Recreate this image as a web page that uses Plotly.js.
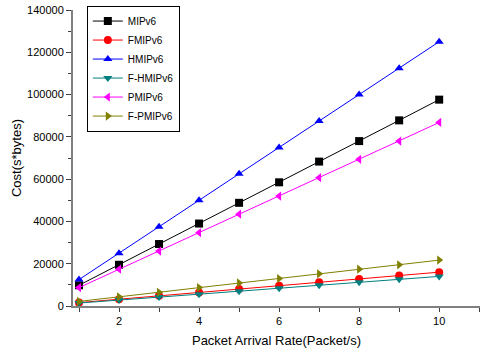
<!DOCTYPE html>
<html>
<head>
<meta charset="utf-8">
<script src="https://cdn.plot.ly/plotly-3.0.1.min.js"></script>
<style>html,body{margin:0;padding:0;background:#fff;}#chart{width:480px;height:351px;}</style>
</head>
<body>
<div id="chart"></div>
<script>
var rate = [1, 2, 3, 4, 5, 6, 7, 8, 9, 10];
var seriesNames = ["MIPv6", "FMIPv6", "HMIPv6", "F-HMIPv6", "PMIPv6", "F-PMIPv6"];
var mipv6 = [9800, 19500, 29300, 39000, 48800, 58500, 68300, 78000, 87800, 97600];
var fmipv6 = [1600, 3200, 4800, 6400, 8000, 9600, 11200, 12800, 14400, 16000];
var hmipv6 = [12500, 25000, 37500, 50000, 62500, 75000, 87500, 100000, 112500, 125000];
var fhmipv6 = [1400, 2800, 4200, 5600, 7000, 8400, 9800, 11200, 12600, 14000];
var pmipv6 = [8700, 17400, 26000, 34700, 43400, 52000, 60700, 69400, 78000, 86800];
var fpmipv6 = [2170, 4340, 6500, 8700, 10900, 13000, 15200, 17400, 19500, 21700];
var xTickVals = [1, 2, 3, 4, 5, 6, 7, 8, 9, 10, 11];
var xTickText = ["", "2", "", "4", "", "6", "", "8", "", "10", ""];

var values = [mipv6, fmipv6, hmipv6, fhmipv6, pmipv6, fpmipv6];
var colors = ["#000000", "#ff0000", "#0000ff", "#008080", "#ff00ff", "#808000"];
var symbols = ["square", "circle", "triangle-up", "triangle-down", "triangle-left", "triangle-right"];

var traces = values.map(function (v, i) {
  return {
    x: rate, y: v, name: seriesNames[i], type: "scatter", mode: "lines+markers",
    line: {color: colors[i], width: 1},
    marker: {color: colors[i], symbol: symbols[i], size: 8}
  };
});

var font = "Arial, 'Liberation Sans', sans-serif";
var layout = {
  width: 480, height: 351,
  margin: {l: 73, r: 0, t: 10, b: 45},
  paper_bgcolor: "#fff", plot_bgcolor: "#fff",
  font: {family: font, size: 11, color: "#000"},
  showlegend: true,
  legend: {
    x: 0.034, y: 1.015, xanchor: "left", yanchor: "top",
    bordercolor: "#000", borderwidth: 1, bgcolor: "rgba(255,255,255,0)",
    itemwidth: 30,
    font: {family: font, size: 10, color: "#000"}
  },
  xaxis: {
    range: [0.85, 11.02], showgrid: false, zeroline: false,
    showline: true, linecolor: "#808080", linewidth: 2,
    tickmode: "array", tickvals: xTickVals, ticktext: xTickText,
    ticks: "outside", ticklen: 4, tickcolor: "#404040", tickwidth: 1,
    tickfont: {family: font, size: 11, color: "#000"},
    title: {text: "Packet Arrival Rate(Packet/s)", font: {family: font, size: 13, color: "#000"}, standoff: 10}
  },
  yaxis: {
    range: [0, 140000], showgrid: false, zeroline: false,
    showline: true, linecolor: "#808080", linewidth: 2,
    dtick: 20000, tick0: 0, tickformat: "d",
    ticks: "outside", ticklen: 5, tickcolor: "#404040", tickwidth: 1,
    minor: {dtick: 10000, ticks: "outside", ticklen: 3, tickcolor: "#404040", showgrid: false},
    tickfont: {family: font, size: 11, color: "#000"},
    title: {text: "Cost(s*bytes)", font: {family: font, size: 13, color: "#000"}, standoff: 3}
  }
};

Plotly.newPlot("chart", traces, layout, {displayModeBar: false, staticPlot: true});
</script>
</body>
</html>
